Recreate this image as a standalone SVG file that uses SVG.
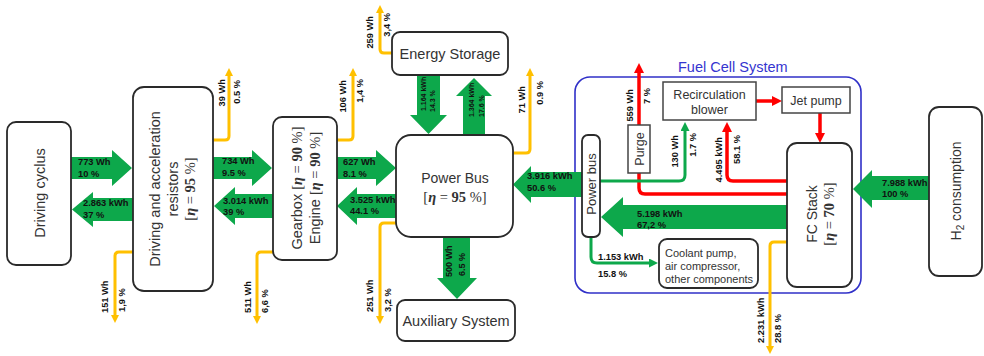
<svg xmlns="http://www.w3.org/2000/svg" width="984" height="356" viewBox="0 0 984 356">
<style>
.node{fill:#fff;stroke:#2a2a2a;stroke-width:1.8}
.sq{fill:#fff;stroke:#444;stroke-width:1.5}
.t{font-family:"Liberation Sans",Arial,sans-serif;font-size:14.5px;fill:#333}
.s{font-family:"Liberation Sans",Arial,sans-serif;font-size:12.5px;fill:#333}
.m{font-family:"Liberation Serif","Times New Roman",serif}
.big{fill:#0DA84B}
.lbl{font-family:"Liberation Sans",Arial,sans-serif;font-size:9.3px;font-weight:bold;fill:#111}
.lsm{font-family:"Liberation Sans",Arial,sans-serif;font-size:7px;font-weight:bold;fill:#111}
.yl{fill:none;stroke:#FFC000;stroke-width:3}
.rd{fill:none;stroke:#FF0000;stroke-width:3.5}
.gl{fill:none;stroke:#0DA84B;stroke-width:3}
</style>
<defs>
<marker id="ay" viewBox="0 0 8 8" refX="1" refY="4" markerWidth="8" markerHeight="8" markerUnits="userSpaceOnUse" orient="auto"><path d="M0,0 L8,4 L0,8 z" fill="#FFC000"/></marker>
<marker id="ar" viewBox="0 0 10 10" refX="1" refY="5" markerWidth="10" markerHeight="10" markerUnits="userSpaceOnUse" orient="auto"><path d="M0,0 L10,5 L0,10 z" fill="#FF0000"/></marker>
<marker id="ag" viewBox="0 0 9 9" refX="1" refY="4.5" markerWidth="9" markerHeight="9" markerUnits="userSpaceOnUse" orient="auto"><path d="M0,0 L9,4.5 L0,9 z" fill="#0DA84B"/></marker>
</defs>
<rect width="984" height="356" fill="#fff"/>

<g id="fuel-cell-system">
<rect x="575" y="77" width="286" height="216" rx="15" fill="none" stroke="#3030C8" stroke-width="1.6"/>
<text x="678" y="72" font-family="Liberation Sans, Arial, sans-serif" font-size="14.5" fill="#3535D0">Fuel Cell System</text>
</g>

<g id="connectors">
<!-- big green arrows -->
<path class="big" d="M71,157 H112 V150 L132,168 L112,186 V179 H71 Z"/>
<path class="big" d="M133,198 H93 V192 L72,209.5 L93,227 V221 H133 Z"/>
<path class="big" d="M213,157 H252 V150 L272,168 L252,186 V179 H213 Z"/>
<path class="big" d="M273,194 H235 V187 L214,206 L235,225 V218 H273 Z"/>
<path class="big" d="M337,157 H376 V150 L396,168 L376,186 V179 H337 Z"/>
<path class="big" d="M396,194 H357 V187 L337,206 L357,225 V218 H396 Z"/>
<path class="big" d="M582,172 H531 V166 L513,184.5 L531,203 V197 H582 Z"/>
<path class="big" d="M787,205 H623 V197 L601,217 L623,237 V229 H787 Z"/>
<path class="big" d="M929,176 H872 V170 L853,189 L872,208 V200 H929 Z"/>
<path class="big" d="M417,75 V115 H410 L428.5,134 L447,115 H440 V75 Z"/>
<path class="big" d="M463,135 V96 H456 L474,78 L492,96 H485 V135 Z"/>
<path class="big" d="M443,237 V278 H437 L457,299 L477,278 H470 V237 Z"/>
<!-- yellow losses -->
<path class="yl" marker-end="url(#ay)" d="M213,140 H225 Q229,140 229,136 V75"/>
<path class="yl" marker-end="url(#ay)" d="M133,252 H119 Q115,252 115,256 V316"/>
<path class="yl" marker-end="url(#ay)" d="M337,140 H349 Q353,140 353,136 V75"/>
<path class="yl" marker-end="url(#ay)" d="M273,252 H261 Q257,252 257,256 V317"/>
<path class="yl" marker-end="url(#ay)" d="M392,53 H384 Q380,53 380,49 V12"/>
<path class="yl" marker-end="url(#ay)" d="M396,223 H384 Q380,223 380,227 V317"/>
<path class="yl" marker-end="url(#ay)" d="M513,153 H526 Q530,153 530,149 V75"/>
<path class="yl" marker-end="url(#ay)" d="M787,242 H774 Q770,242 770,246 V347"/>
<!-- red lines -->
<path class="rd" marker-end="url(#ar)" d="M639,125 V72"/>
<path class="rd" d="M787,194 H645 Q639,194 639,188 V173"/>
<path class="rd" marker-end="url(#ar)" d="M787,181 H733 Q727,181 727,175 V131"/>
<path class="rd" marker-end="url(#ar)" d="M756,101 H773"/>
<path class="rd" marker-end="url(#ar)" d="M820,113 V134"/>
<!-- thin green lines -->
<path class="gl" marker-end="url(#ag)" d="M600,181 H679 Q685,181 685,175 V130"/>
<path class="gl" marker-end="url(#ag)" d="M591,237 V257 Q591,263 597,263 H650"/>

<!-- horizontal labels -->
<text class="lbl" x="78" y="164.5">773 Wh</text>
<text class="lbl" x="78" y="176.5">10 %</text>
<text class="lbl" x="83" y="206">2.863 kWh</text>
<text class="lbl" x="83" y="217.5">37 %</text>
<text class="lbl" x="222" y="164">734 Wh</text>
<text class="lbl" x="222" y="176">9.5 %</text>
<text class="lbl" x="223" y="203.5">3.014 kWh</text>
<text class="lbl" x="223" y="214.5">39 %</text>
<text class="lbl" x="343" y="165">627 Wh</text>
<text class="lbl" x="343" y="177">8.1 %</text>
<text class="lbl" x="350" y="202.5">3.525 kWh</text>
<text class="lbl" x="350" y="213.5">44.1 %</text>
<text class="lbl" x="527" y="178.5">3.916 kWh</text>
<text class="lbl" x="527" y="190.5">50.6 %</text>
<text class="lbl" x="637" y="216.5">5.198 kWh</text>
<text class="lbl" x="637" y="227.5">67,2 %</text>
<text class="lbl" x="882" y="185.5">7.988 kWh</text>
<text class="lbl" x="882" y="196.5">100 %</text>
<text class="lbl" x="598" y="259.5">1.153 kWh</text>
<text class="lbl" x="598" y="276.5">15.8 %</text>

<!-- vertical labels (upward arrows, top aligned) -->
<text class="lbl" text-anchor="end" transform="translate(225.4,79) rotate(-90)">39 Wh</text>
<text class="lbl" text-anchor="end" transform="translate(240.4,80) rotate(-90)">0.5 %</text>
<text class="lbl" text-anchor="end" transform="translate(346.4,80) rotate(-90)">106 Wh</text>
<text class="lbl" text-anchor="end" transform="translate(363.4,79) rotate(-90)">1,4 %</text>
<text class="lbl" text-anchor="end" transform="translate(373.4,16) rotate(-90)">259 Wh</text>
<text class="lbl" text-anchor="end" transform="translate(390.4,13) rotate(-90)">3,4 %</text>
<text class="lbl" text-anchor="end" transform="translate(525.4,86) rotate(-90)">71 Wh</text>
<text class="lbl" text-anchor="end" transform="translate(543.4,81) rotate(-90)">0.9 %</text>
<text class="lbl" text-anchor="end" transform="translate(633.4,89) rotate(-90)">559 Wh</text>
<text class="lbl" text-anchor="end" transform="translate(650.4,88) rotate(-90)">7 %</text>
<text class="lbl" text-anchor="end" transform="translate(678.4,135) rotate(-90)">130 Wh</text>
<text class="lbl" text-anchor="end" transform="translate(696.4,133) rotate(-90)">1.7 %</text>
<text class="lbl" text-anchor="end" transform="translate(722.4,137) rotate(-90)">4.495 kWh</text>
<text class="lbl" text-anchor="end" transform="translate(740.4,135) rotate(-90)">58.1 %</text>
<!-- vertical labels (downward, bottom aligned) -->
<text class="lbl" transform="translate(108.4,313) rotate(-90)">151 Wh</text>
<text class="lbl" transform="translate(125.4,312) rotate(-90)">1,9 %</text>
<text class="lbl" transform="translate(251.4,313) rotate(-90)">511 Wh</text>
<text class="lbl" transform="translate(268.4,313) rotate(-90)">6,6 %</text>
<text class="lbl" transform="translate(373.4,312) rotate(-90)">251 Wh</text>
<text class="lbl" transform="translate(391.4,312) rotate(-90)">3,2 %</text>
<text class="lbl" transform="translate(764.4,343) rotate(-90)">2.231 kWh</text>
<text class="lbl" transform="translate(781.4,343) rotate(-90)">28.8 %</text>
<!-- vertical labels in green arrows -->
<text class="lsm" transform="translate(425.5,111) rotate(-90)">1.164 kWh</text>
<text class="lsm" transform="translate(434.5,112) rotate(-90)">14.3 %</text>
<text class="lsm" transform="translate(473.5,117) rotate(-90)">1.364 kWh</text>
<text class="lsm" transform="translate(483.5,117) rotate(-90)">17.6 %</text>
<text class="lbl" style="font-size:9px" transform="translate(452.3,277) rotate(-90)">500 Wh</text>
<text class="lbl" style="font-size:9px" transform="translate(465.3,276) rotate(-90)">6.5 %</text>
</g>

<g id="driving-cyclus">
<rect class="node" x="7" y="122" width="64" height="143" rx="9"/>
<text class="t" text-anchor="middle" transform="translate(45,193) rotate(-90)">Driving cyclus</text>
</g>

<g id="driving-resistors">
<rect class="node" x="133" y="87" width="80" height="204" rx="11"/>
<text class="t" text-anchor="middle" transform="translate(160,189) rotate(-90)">Driving and acceleration</text>
<text class="t" text-anchor="middle" transform="translate(178,189) rotate(-90)">resistors</text>
<text class="t m" text-anchor="middle" transform="translate(195,189) rotate(-90)">[<tspan font-weight="bold" font-style="italic">η</tspan> = <tspan font-weight="bold">95</tspan> %]</text>
</g>

<g id="gearbox-engine">
<rect class="node" x="273" y="117" width="64" height="143" rx="9"/>
<text class="t" text-anchor="middle" transform="translate(302,188) rotate(-90)">Gearbox <tspan class="m">[<tspan font-weight="bold" font-style="italic">η</tspan> = <tspan font-weight="bold">90</tspan> %]</tspan></text>
<text class="t" text-anchor="middle" transform="translate(320,188) rotate(-90)">Engine <tspan class="m">[<tspan font-weight="bold" font-style="italic">η</tspan> = <tspan font-weight="bold">90</tspan> %]</tspan></text>
</g>

<g id="energy-storage">
<rect class="node" x="392" y="32" width="116" height="43" rx="8"/>
<text class="t" x="450" y="59" text-anchor="middle">Energy Storage</text>
</g>

<g id="power-bus">
<rect class="node" x="396" y="135" width="117" height="102" rx="15"/>
<text class="t" x="455" y="183" text-anchor="middle" style="font-size:14px">Power Bus</text>
<text class="t m" x="455" y="202" text-anchor="middle" style="font-size:14.5px">[<tspan font-weight="bold" font-style="italic">η</tspan> = <tspan font-weight="bold">95</tspan> %]</text>
</g>

<g id="auxiliary-system">
<rect class="node" x="397" y="300" width="118" height="41" rx="8"/>
<text class="t" x="456" y="326" text-anchor="middle">Auxiliary System</text>
</g>

<g id="fc-power-bus">
<rect class="node" x="582" y="135" width="18" height="102" rx="6"/>
<text class="t" text-anchor="middle" style="font-size:13px" transform="translate(595.5,184) rotate(-90)">Power bus</text>
</g>

<g id="purge">
<rect class="sq" x="628" y="125" width="22" height="48"/>
<text class="s" text-anchor="middle" transform="translate(644,149) rotate(-90)">Purge</text>
</g>

<g id="recirculation-blower">
<rect class="sq" x="663" y="82" width="93" height="38"/>
<text class="s" x="709.5" y="99" text-anchor="middle">Recirculation</text>
<text class="s" x="709.5" y="114" text-anchor="middle">blower</text>
</g>

<g id="jet-pump">
<rect class="sq" x="782" y="87" width="68" height="26"/>
<text class="s" x="816" y="105" text-anchor="middle">Jet pump</text>
</g>

<g id="fc-stack">
<rect class="node" x="787" y="143" width="65" height="144" rx="10"/>
<text class="t" text-anchor="middle" style="font-size:14px" transform="translate(817,214) rotate(-90)">FC Stack</text>
<text class="t m" text-anchor="middle" style="font-size:14.5px" transform="translate(834,214) rotate(-90)">[<tspan font-weight="bold" font-style="italic">η</tspan> = <tspan font-weight="bold">70</tspan> %]</text>
</g>

<g id="coolant-pump">
<rect class="node" x="659" y="239" width="99" height="49" rx="8"/>
<text class="t" style="font-size:11px" x="665" y="257">Coolant pump,</text>
<text class="t" style="font-size:11px" x="665" y="270">air compressor,</text>
<text class="t" style="font-size:11px" x="665" y="283">other components</text>
</g>

<g id="h2-consumption">
<rect class="node" x="929" y="107" width="53" height="169" rx="10"/>
<text class="t" text-anchor="middle" style="font-size:14px" transform="translate(961,191) rotate(-90)">H<tspan font-size="10" dy="3">2</tspan><tspan dy="-3"> consumption</tspan></text>
</g>
</svg>
